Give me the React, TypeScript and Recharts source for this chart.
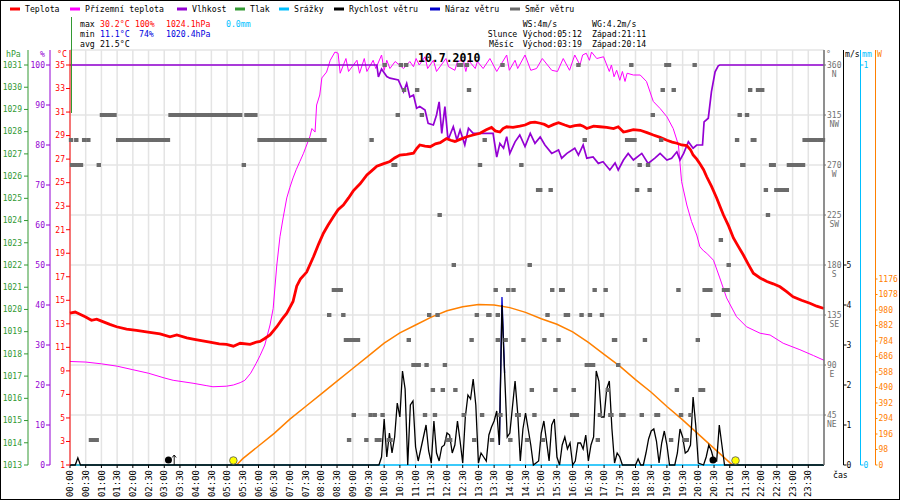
import React from "react";
import { ComposedChart, Line, Scatter, XAxis, YAxis, CartesianGrid } from "recharts";

const MONO = '"DejaVu Sans Mono", "Liberation Mono", monospace';

// popisky časové osy (po 30 minutách)
const casy = [
  "00:00", "00:30", "01:00", "01:30", "02:00", "02:30", "03:00", "03:30",
  "04:00", "04:30", "05:00", "05:30", "06:00", "06:30", "07:00", "07:30",
  "08:00", "08:30", "09:00", "09:30", "10:00", "10:30", "11:00", "11:30",
  "12:00", "12:30", "13:00", "13:30", "14:00", "14:30", "15:00", "15:30",
  "16:00", "16:30", "17:00", "17:30", "18:00", "18:30", "19:00", "19:30",
  "20:00", "20:30", "21:00", "21:30", "22:00", "22:30", "23:00", "23:30",
];

// [minuta dne, hodnota]
const teplota: [number, number][] = [
  [0, 13.9], [10, 14.0], [20, 13.8], [29, 13.6], [41, 13.3], [51, 13.4], [59, 13.25], [76, 12.95],
  [89, 12.75], [108, 12.55], [127, 12.45], [149, 12.3], [172, 12.15], [191, 11.9], [204, 12.05],
  [223, 11.8], [235, 11.7], [248, 11.6], [267, 11.45], [285, 11.3], [299, 11.25], [312, 11.1],
  [325, 11.35], [344, 11.25], [356, 11.45], [363, 11.5], [372, 11.75], [382, 12.05], [395, 12.75],
  [405, 13.4], [414, 13.9], [426, 14.9], [433, 16.2], [440, 16.8], [452, 17.4], [465, 18.7],
  [475, 19.8], [484, 20.7], [493, 21.4], [503, 22.1], [512, 22.7], [522, 23.1], [532, 23.7],
  [541, 24.3], [554, 24.9], [567, 25.65], [576, 26.0], [586, 26.4], [598, 26.6], [611, 26.8],
  [620, 27.1], [630, 27.35], [643, 27.4], [656, 27.5], [662, 27.9], [668, 28.2], [678, 28.1],
  [688, 28.05], [698, 28.3], [707, 28.4], [719, 28.75], [727, 28.6], [735, 28.5], [746, 28.7],
  [758, 28.9], [770, 29.05], [783, 29.2], [795, 29.5], [805, 29.7], [812, 29.4], [821, 29.3],
  [827, 29.6], [834, 29.75], [846, 29.7], [859, 29.8], [869, 29.9], [879, 30.1], [888, 30.15],
  [898, 30.05], [906, 29.95], [914, 29.75], [924, 29.95], [933, 30.1], [945, 29.9], [955, 29.75],
  [964, 29.85], [974, 29.9], [980, 29.8], [987, 29.6], [1000, 29.8], [1012, 29.75], [1025, 29.7],
  [1038, 29.6], [1047, 29.75], [1057, 29.3], [1063, 29.35], [1076, 29.5], [1089, 29.45],
  [1102, 29.25], [1114, 29.05], [1127, 28.85], [1140, 28.6], [1150, 28.45], [1159, 28.35],
  [1168, 28.2], [1178, 28.15], [1185, 27.8], [1190, 27.35], [1197, 27.0], [1203, 26.6],
  [1210, 26.1], [1216, 25.5], [1225, 24.7], [1235, 23.7], [1242, 22.9], [1248, 22.25],
  [1258, 21.3], [1267, 20.3], [1276, 19.6], [1286, 18.85], [1295, 18.1], [1305, 17.3],
  [1318, 16.9], [1331, 16.6], [1343, 16.4], [1356, 16.15], [1368, 15.75], [1381, 15.3],
  [1397, 15.0], [1413, 14.75], [1426, 14.5], [1440, 14.3],
];

const prizemniTeplota: [number, number][] = [
  [0, 9.8], [30, 9.75], [60, 9.6], [90, 9.4], [120, 9.1], [150, 8.8], [180, 8.4], [197, 8.2],
  [235, 7.95], [260, 7.75], [273, 7.65], [299, 7.7], [312, 7.8], [325, 8.0], [334, 8.2],
  [345, 8.8], [355, 9.6], [363, 10.3], [372, 11.2], [382, 12.9], [388, 14.3], [395, 18.0],
  [401, 20.4], [407, 22.0], [414, 23.7], [420, 24.6], [426, 25.4], [432, 26.1], [439, 26.8],
  [446, 27.5], [452, 28.2], [458, 28.9], [462, 29.6], [468, 29.3], [471, 31.6], [477, 32.45],
  [481, 33.9], [490, 34.4], [497, 35.4], [506, 36.1], [512, 36.0], [516, 34.3], [527, 35.55],
  [532, 34.45], [548, 35.4], [553, 34.3], [562, 35.55], [567, 34.45], [579, 35.4], [584, 34.7],
  [595, 35.85], [600, 34.55], [605, 35.4], [611, 34.7], [621, 35.3], [637, 34.7], [649, 35.3],
  [656, 34.85], [661, 35.55], [667, 35.0], [678, 35.7], [683, 34.7], [694, 35.4], [700, 34.45],
  [718, 35.55], [723, 34.85], [735, 34.55], [740, 35.3], [751, 35.4], [756, 34.45], [761, 35.4],
  [774, 34.7], [778, 35.3], [789, 34.7], [802, 35.55], [815, 34.45], [834, 35.85], [839, 34.55],
  [850, 35.4], [855, 34.7], [869, 35.85], [880, 34.55], [891, 34.7], [902, 35.55], [920, 34.55],
  [931, 34.45], [942, 35.55], [954, 34.55], [964, 35.85], [974, 35.0], [979, 35.85], [986, 36.0],
  [992, 35.4], [996, 36.1], [1006, 35.55], [1019, 35.7], [1030, 34.45], [1034, 35.0],
  [1039, 34.0], [1044, 34.55], [1050, 33.7], [1055, 34.45], [1060, 33.6], [1064, 34.3],
  [1076, 34.15], [1089, 34.15], [1101, 33.6], [1114, 31.9], [1127, 31.3], [1140, 30.6],
  [1152, 29.6], [1162, 28.2], [1168, 25.1], [1178, 23.1], [1187, 21.7], [1197, 20.55],
  [1203, 19.55], [1210, 19.2], [1216, 19.0], [1229, 18.4], [1241, 16.9], [1254, 15.2],
  [1273, 13.6], [1292, 12.75], [1318, 12.2], [1337, 12.05], [1362, 11.35], [1394, 10.8],
  [1420, 10.3], [1440, 9.9],
];

const vlhkost: [number, number][] = [
  [0, 100], [586, 100], [589, 97], [595, 99], [605, 97.1], [611, 96.7], [627, 96.25], [637, 93.3],
  [643, 95.4], [649, 92], [656, 92.5], [662, 89.2], [668, 89.6], [678, 88.75], [684, 85.4],
  [694, 85], [700, 87.5], [705, 90.8], [710, 82.9], [716, 89.6], [722, 81.25], [732, 84.6],
  [739, 81.25], [745, 83.75], [754, 80], [761, 84.2], [770, 82.9], [808, 82.9], [815, 77],
  [821, 80.4], [828, 79.2], [834, 82.1], [840, 77.9], [850, 80.8], [859, 82.5], [869, 79.6],
  [879, 82.9], [888, 80.4], [898, 82], [907, 80], [920, 77.9], [933, 78.75], [939, 76.7],
  [949, 77.9], [964, 79.2], [971, 77.5], [980, 80], [987, 76.7], [999, 77], [1009, 75.4],
  [1018, 75.8], [1031, 73.75], [1041, 75.5], [1047, 73.75], [1057, 76.25], [1066, 77.9],
  [1076, 76.25], [1092, 77.9], [1104, 75.4], [1117, 76.7], [1127, 77.9], [1140, 76.25],
  [1149, 76.7], [1159, 78.3], [1165, 76.25], [1172, 77.9], [1181, 80.8], [1190, 79.2],
  [1197, 80], [1208, 80], [1211, 85.8], [1219, 86.7], [1225, 93.3], [1232, 98.3], [1238, 99.8],
  [1241, 100], [1440, 100],
];

const rychlostVetru: [number, number][] = [
  [0, 0], [10, 0], [15, 0.18], [20, 0], [585, 0], [590, 0], [595, 0.2], [600, 1.15], [605, 0.2],
  [610, 0.8], [615, 0.3], [620, 0.7], [625, 1.55], [630, 1.2], [635, 2.35], [640, 1.9], [645, 0],
  [650, 1.5], [655, 1.6], [660, 0.45], [665, 0.1], [670, 0.4], [675, 0.7], [680, 1.0], [685, 0.35],
  [690, 0.05], [695, 1.1], [700, 0.3], [705, 0.1], [710, 0.45], [715, 0.5], [720, 0.8], [725, 0.75],
  [730, 0.3], [735, 0.5], [740, 1.1], [745, 0.6], [750, 0.05], [755, 1.2], [760, 1.75], [765, 1.65],
  [770, 2.15], [775, 1.5], [780, 0.05], [785, 0.3], [790, 0.2], [795, 0.1], [800, 0.75], [805, 0.95],
  [810, 1.1], [815, 1.35], [820, 0.5], [825, 4.0], [830, 2.3], [835, 0.7], [840, 0.8], [845, 1.45],
  [850, 2.1], [855, 1.3], [860, 0.1], [865, 0.9], [870, 1.3], [875, 0.9], [880, 0.5], [885, 0],
  [890, 0.05], [895, 0.1], [900, 0.8], [905, 1.1], [910, 0.6], [915, 0.1], [920, 1.0], [925, 1.15],
  [930, 0.2], [935, 0], [940, 0.5], [945, 0.7], [950, 0.4], [955, 0.55], [960, 0], [965, 0.1],
  [970, 0.55], [975, 0.55], [980, 0.4], [985, 0.75], [990, 0.1], [995, 0.5], [1000, 0.7],
  [1005, 2.35], [1010, 2.1], [1015, 1.2], [1020, 1.2], [1025, 1.9], [1030, 2.1], [1035, 0.9],
  [1040, 0.05], [1045, 0.3], [1050, 0.2], [1055, 0], [1080, 0], [1085, 0.15], [1090, 0], [1095, 0],
  [1100, 0.3], [1105, 0.65], [1110, 0.85], [1115, 0.9], [1120, 0.6], [1125, 0.05], [1130, 0.55],
  [1135, 0.85], [1140, 0.5], [1145, 0], [1155, 0], [1160, 0.3], [1165, 0.9], [1170, 0.7],
  [1175, 0.3], [1180, 0.35], [1185, 0.5], [1190, 1.7], [1195, 1.0], [1200, 0.05], [1210, 0],
  [1215, 0.2], [1220, 0.5], [1225, 0.35], [1230, 0.1], [1235, 0.1], [1240, 1.0], [1245, 0.5],
  [1250, 0], [1440, 0],
];

const narazVetru: [number, number][] = [[820, 0.5], [825, 4.2], [830, 2.3]];

const srazky: [number, number][] = [[0, 0], [1440, 0]];

const slunecniZareni: [number, number][] = [
  [0, 0], [300, 0], [318, 0], [330, 40], [360, 120], [390, 200], [420, 290], [450, 370],
  [480, 450], [510, 530], [540, 610], [570, 690], [600, 770], [630, 835], [660, 885], [690, 935],
  [720, 975], [750, 1000], [780, 1015], [810, 1012], [840, 995], [870, 965], [900, 925],
  [930, 890], [960, 842], [990, 775], [1020, 700], [1050, 625], [1080, 540], [1110, 460],
  [1140, 370], [1170, 285], [1200, 195], [1230, 105], [1260, 15], [1266, 0], [1440, 0],
];

// směr větru: [stupně, minuty dne]
const smerVetru: [number, number[]][] = [
  [360, [601, 632, 642, 743, 747, 758, 826, 971, 1072, 1139, 1144, 1193]],
  [337.5, [638, 663, 762, 1132, 1153, 1299, 1314, 1322]],
  [315, [61, 68, 75, 82, 85, 192, 199, 206, 213, 220, 227, 234, 241, 248, 255, 262, 269, 276, 283,
    290, 297, 304, 311, 318, 325, 337, 344, 351, 354, 626, 672, 1113, 1279, 1293]],
  [292.5, [2, 12, 27, 35, 92, 99, 106, 113, 120, 127, 134, 141, 148, 155, 162, 169, 176, 183, 187,
    362, 369, 376, 383, 390, 397, 404, 411, 418, 425, 432, 439, 446, 453, 460, 467, 474, 481, 486,
    576, 792, 983, 1064, 1071, 1075, 1078, 1129, 1274, 1304, 1307, 1403, 1410, 1417, 1424, 1431, 1438]],
  [270, [4, 11, 18, 21, 55, 332, 618, 621, 783, 862, 1088, 1104, 1284, 1286, 1339, 1344, 1373, 1380,
    1387, 1394, 1400]],
  [247.5, [894, 898, 918, 1083, 1107, 1329, 1349, 1356, 1363, 1369]],
  [225, [706, 1333]],
  [202.5, [1243]],
  [180, [733, 878, 1258]],
  [157.5, [504, 511, 517, 813, 837, 847, 921, 938, 941, 1002, 1023, 1162, 1212, 1219, 1223, 1249, 1256]],
  [135, [495, 522, 686, 702, 777, 799, 801, 817, 912, 947, 951, 977, 993, 1016, 1228, 1235, 1239]],
  [112.5, [527, 534, 541, 548, 550, 647, 767, 817, 832, 866, 906, 933, 1039, 1041, 1098, 1199]],
  [90, [656, 663, 666, 681, 716, 987, 994, 999, 1047]],
  [67.5, [693, 712, 736, 882, 927, 962, 1027, 1159, 1204, 1209]],
  [45, [542, 574, 582, 597, 678, 697, 752, 787, 822, 854, 857, 887, 959, 966, 968, 1012, 1032, 1034,
    1053, 1057, 1092, 1120, 1123, 1167, 1185]],
  [22.5, [40, 47, 51, 533, 566, 586, 591, 609, 612, 721, 726, 772, 806, 841, 873, 903, 1008, 1148,
    1173, 1178]],
];

const slunce = [312, 1271]; // východ, západ
const mesic = [188, 1228];
const vychodMesice = [199];

const tlakTicks = [1013, 1014, 1015, 1016, 1017, 1018, 1019, 1020, 1021, 1022, 1023, 1024, 1025,
  1026, 1027, 1028, 1029, 1030, 1031];
const vlhkostTicks = [0, 10, 20, 30, 40, 50, 60, 70, 80, 90, 100];
const teplotaTicks = [1, 3, 5, 7, 9, 11, 13, 15, 17, 19, 21, 23, 25, 27, 29, 31, 33, 35];
const smerTicks = [45, 90, 135, 180, 225, 270, 315, 360];
const svetoveStrany = ["NE", "E", "SE", "S", "SW", "W", "NW", "N"];
const rychlostTicks = [0, 1, 2, 3, 4, 5];
const srazkyTicks = [0, 1];
const zareniTicks = [0, 98, 196, 294, 392, 490, 588, 686, 784, 882, 980, 1078, 1176];

const pts = (a: [number, number][]) => a.map(([t, v]) => ({ t, v }));
const smerPts = smerVetru.flatMap(([deg, times]) => times.map((t) => ({ t, v: deg })));
const naOse = (a: number[]) => a.map((t) => ({ t, v: 1 }));

const osaTick = (color: string, anchor: "start" | "end") => (p: any) => (
  <text x={p.x} y={p.y} dy="0.35em" textAnchor={anchor} fill={color} fontSize={8} fontFamily={MONO}>
    {p.payload.value}
  </text>
);

const SmerTick = (p: any) => {
  const s = String(p.payload.value);
  const i = smerTicks.indexOf(p.payload.value);
  return (
    <g>
      <text x={p.x} y={p.y} dy="0.35em" textAnchor="start" fill="#707070" fontSize={8} fontFamily={MONO}>{s}</text>
      <text x={p.x + s.length * 2.4} y={p.y + 9} dy="0.35em" textAnchor="middle" fill="#707070" fontSize={8} fontFamily={MONO}>
        {svetoveStrany[i]}
      </text>
    </g>
  );
};

const CasTick = (p: any) => (
  <text x={p.x} y={p.y} dy="0.35em" textAnchor="end" transform={`rotate(-90 ${p.x} ${p.y})`}
    fill="#000" fontSize={9} fontFamily={MONO}>
    {casy[Math.round(p.payload.value / 30)]}
  </text>
);

const Ctverec = (p: any) => <rect x={p.cx - 2.2} y={p.cy - 2} width={4.4} height={4} fill="#6b6b6b" />;
const SlunceZnak = (p: any) => <circle cx={p.cx} cy={p.cy - 4.5} r={3.8} fill="#ffff00" stroke="#555" strokeWidth={0.8} />;
const MesicZnak = (p: any) => <circle cx={p.cx} cy={p.cy - 5} r={3.5} fill="#000" />;
const Sipka = (p: any) => (
  <path d={`M${p.cx} ${p.cy} V${p.cy - 10} M${p.cx - 2} ${p.cy - 7.5} L${p.cx} ${p.cy - 10} L${p.cx + 2} ${p.cy - 7.5}`}
    stroke="#000" strokeWidth={0.9} fill="none" />
);

const legenda = [
  { x: 10, c: "#ff0000", t: "Teplota" },
  { x: 70, c: "#ff00ff", t: "Přízemní teplota" },
  { x: 177, c: "#9400d3", t: "Vlhkost" },
  { x: 235, c: "#339933", t: "Tlak" },
  { x: 279, c: "#00bfff", t: "Srážky" },
  { x: 334, c: "#000000", t: "Rychlost větru" },
  { x: 430, c: "#0000cc", t: "Náraz větru" },
  { x: 510, c: "#6b6b6b", t: "Směr větru" },
];

// id os začínají písmenem podle pořadí od grafu ven
const OS = {
  teplota: "a_teplota",
  vlhkost: "b_vlhkost",
  tlak: "c_tlak",
  smer: "d_smer",
  rychlost: "e_rychlost",
  srazky: "f_srazky",
  zareni: "g_zareni",
};

export default function App() {
  const txt = { fontSize: 8.2, fontFamily: MONO } as const;
  return (
    <div style={{ position: "absolute", left: 0, top: 0, width: 900, height: 500, background: "#fff" }}>
      <ComposedChart width={900} height={500} margin={{ top: 50, right: 0, bottom: 0, left: 0 }}>
        <CartesianGrid yAxisId={OS.smer} stroke="#e4e4e4" strokeWidth={1.5} />
        <XAxis dataKey="t" type="number" domain={[0, 1440]} ticks={casy.map((_, i) => i * 30)} interval={0}
          height={35} tickSize={3} tickMargin={2} axisLine={false} tickLine={{ stroke: "#000" }} tick={CasTick} />
        <YAxis yAxisId={OS.teplota} orientation="left" width={20} domain={[1, 36.275]} ticks={teplotaTicks}
          interval={0} tickSize={4} tickMargin={1} axisLine={{ stroke: "#ff0000" }} tickLine={{ stroke: "#ff0000" }}
          tick={osaTick("#ff0000", "end")} />
        <YAxis yAxisId={OS.vlhkost} orientation="left" width={22} domain={[0, 103.75]} ticks={vlhkostTicks}
          interval={0} tickSize={4} tickMargin={1} axisLine={{ stroke: "#9400d3" }} tickLine={{ stroke: "#9400d3" }}
          tick={osaTick("#9400d3", "end")} />
        <YAxis yAxisId={OS.tlak} orientation="left" width={28} domain={[1013, 1031.675]} ticks={tlakTicks}
          allowDataOverflow interval={0} tickSize={4} tickMargin={2} axisLine={{ stroke: "#339933" }}
          tickLine={{ stroke: "#339933" }} tick={osaTick("#339933", "end")} />
        <YAxis yAxisId={OS.smer} orientation="right" width={19.5} domain={[0, 373.5]} ticks={smerTicks}
          interval={0} tickSize={2} tickMargin={1} axisLine={{ stroke: "#707070", strokeWidth: 1.5 }}
          tickLine={{ stroke: "#707070" }} tick={SmerTick} />
        <YAxis yAxisId={OS.rychlost} orientation="right" width={17} domain={[0, 10.375]} ticks={rychlostTicks}
          interval={0} tickSize={3} tickMargin={0} axisLine={{ stroke: "#000" }} tickLine={{ stroke: "#000" }}
          tick={osaTick("#000", "start")} />
        <YAxis yAxisId={OS.srazky} orientation="right" width={15} domain={[0, 1.0375]} ticks={srazkyTicks}
          interval={0} tickSize={3} tickMargin={0} axisLine={{ stroke: "#00bfff" }} tickLine={{ stroke: "#00bfff" }}
          tick={osaTick("#00bfff", "start")} />
        <YAxis yAxisId={OS.zareni} orientation="right" width={24.5} domain={[0, 2624]} ticks={zareniTicks}
          interval={0} tickSize={2} tickMargin={1} axisLine={{ stroke: "#ff8000" }} tickLine={{ stroke: "#ff8000" }}
          tick={osaTick("#ff8000", "start")} />

        <Line yAxisId={OS.zareni} data={pts(slunecniZareni)} dataKey="v" type="linear" stroke="#ff8000"
          strokeWidth={1.5} dot={false} isAnimationActive={false} />
        <Line yAxisId={OS.srazky} data={pts(srazky)} dataKey="v" type="linear" stroke="#00bfff"
          strokeWidth={1.4} dot={false} isAnimationActive={false} />
        <Line yAxisId={OS.teplota} data={pts(prizemniTeplota)} dataKey="v" type="linear" stroke="#ff00ff"
          strokeWidth={1} dot={false} isAnimationActive={false} />
        <Line yAxisId={OS.vlhkost} data={pts(vlhkost)} dataKey="v" type="linear" stroke="#9400d3"
          strokeWidth={1.7} dot={false} isAnimationActive={false} />
        <Line yAxisId={OS.teplota} data={pts(teplota)} dataKey="v" type="linear" stroke="#ff0000"
          strokeWidth={2.8} dot={false} isAnimationActive={false} />
        <Line yAxisId={OS.rychlost} data={pts(narazVetru)} dataKey="v" type="linear" stroke="#0000cc"
          strokeWidth={1.3} dot={false} isAnimationActive={false} />
        <Line yAxisId={OS.rychlost} data={pts(rychlostVetru)} dataKey="v" type="linear" stroke="#000"
          strokeWidth={1.3} dot={false} isAnimationActive={false} />
        <Scatter yAxisId={OS.smer} data={smerPts} dataKey="v" shape={Ctverec} isAnimationActive={false} />
        <Scatter yAxisId={OS.teplota} data={naOse(slunce)} dataKey="v" shape={SlunceZnak} isAnimationActive={false} />
        <Scatter yAxisId={OS.teplota} data={naOse(mesic)} dataKey="v" shape={MesicZnak} isAnimationActive={false} />
        <Scatter yAxisId={OS.teplota} data={naOse(vychodMesice)} dataKey="v" shape={Sipka} isAnimationActive={false} />
      </ComposedChart>

      <svg width={900} height={500} style={{ position: "absolute", left: 0, top: 0, pointerEvents: "none" }}>
        <rect x={0.5} y={0.5} width={899} height={499} fill="none" stroke="#000" />
        {legenda.map((l) => (
          <g key={l.t}>
            <rect x={l.x} y={7.5} width={10} height={3} fill={l.c} />
            <text x={l.x + 15} y={12.3} {...txt} fill="#000">{l.t}</text>
          </g>
        ))}
        <line x1={71.5} y1={17} x2={71.5} y2={113} stroke="#339933" />

        <text x={80} y={27} {...txt} fill="#000">max</text>
        <text x={100} y={27} {...txt} fill="#ff0000">30.2°C</text>
        <text x={135} y={27} {...txt} fill="#ff0000">100%</text>
        <text x={166} y={27} {...txt} fill="#ff0000">1024.1hPa</text>
        <text x={226} y={27} {...txt} fill="#00bfff">0.0mm</text>
        <text x={80} y={37} {...txt} fill="#000">min</text>
        <text x={100} y={37} {...txt} fill="#0000dd">11.1°C</text>
        <text x={139} y={37} {...txt} fill="#0000dd">74%</text>
        <text x={166} y={37} {...txt} fill="#0000dd">1020.4hPa</text>
        <text x={80} y={47} {...txt} fill="#000">avg</text>
        <text x={100} y={47} {...txt} fill="#000">21.5°C</text>

        <text x={522.7} y={27} {...txt} fill="#000">WS:4m/s</text>
        <text x={592} y={27} {...txt} fill="#000">WG:4.2m/s</text>
        <text x={487.7} y={37} {...txt} fill="#000">Slunce</text>
        <text x={522.7} y={37} {...txt} fill="#000">Východ:05:12</text>
        <text x={592} y={37} {...txt} fill="#000">Západ:21:11</text>
        <text x={489} y={47} {...txt} fill="#000">Měsíc</text>
        <text x={522.7} y={47} {...txt} fill="#000">Východ:03:19</text>
        <text x={592} y={47} {...txt} fill="#000">Západ:20:14</text>

        <text x={418} y={61.5} fontSize={11.5} fontWeight="bold" fontFamily={MONO} fill="#000">10.7.2010</text>

        <text x={6} y={57} {...txt} fill="#339933">hPa</text>
        <text x={40} y={57} {...txt} fill="#9400d3">%</text>
        <text x={57} y={57} {...txt} fill="#ff0000">°C</text>
        <text x={826} y={57} {...txt} fill="#707070">°</text>
        <text x={845} y={57} {...txt} fill="#000">m/s</text>
        <text x={862} y={57} {...txt} fill="#00bfff">mm</text>
        <text x={877} y={57} {...txt} fill="#ff8000">W</text>
        <text x={833} y={478} {...txt} fill="#000">čas</text>
      </svg>
    </div>
  );
}
